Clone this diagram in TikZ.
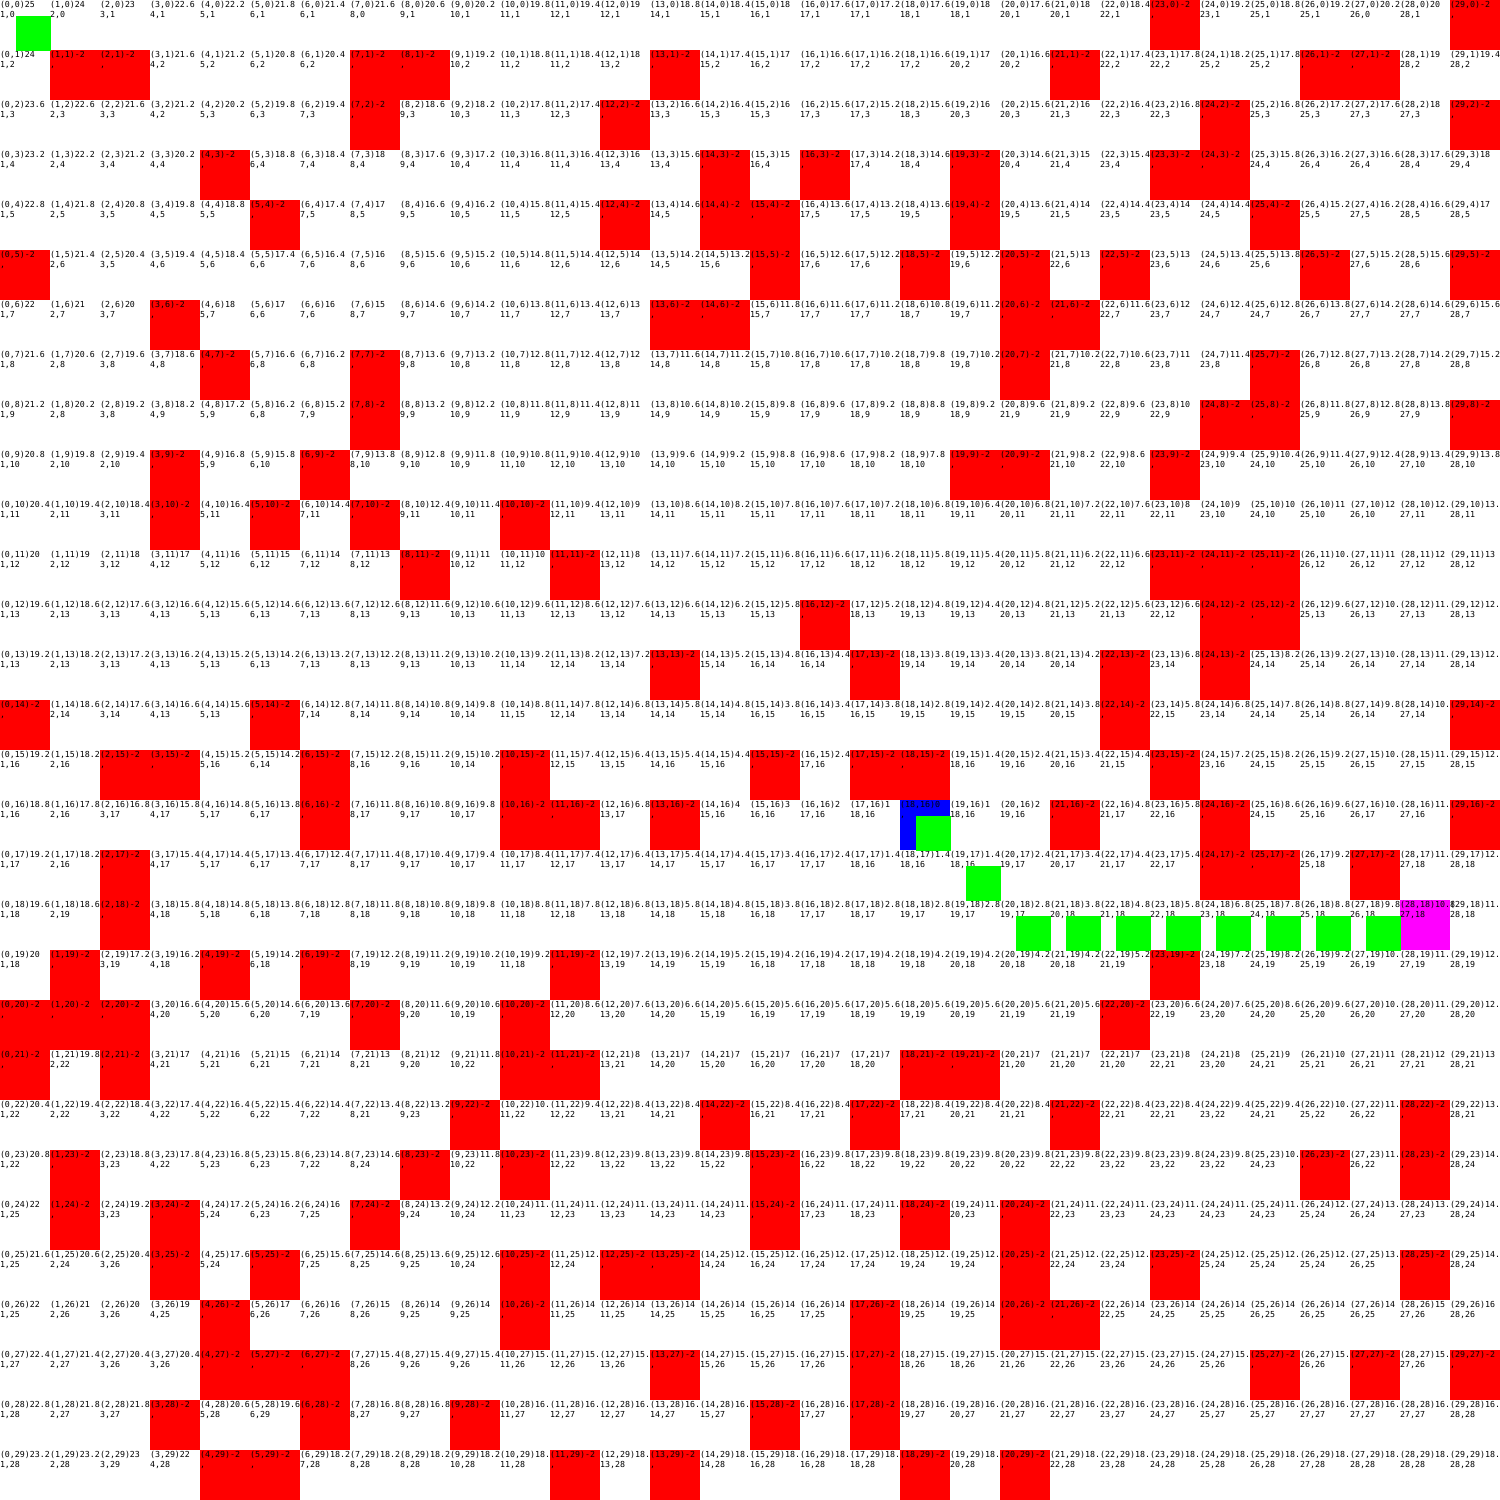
\documentclass[tikz,border=0pt]{standalone}
\usepackage{fontspec}
\newfontfamily\cellfont{DejaVu Sans Mono}
\tikzstyle{free}=[fill=white]
\tikzstyle{wall}=[fill={rgb,255:red,255;green,0;blue,0}]
\tikzstyle{goal}=[fill={rgb,255:red,0;green,0;blue,255}]
\tikzstyle{start}=[fill={rgb,255:red,255;green,0;blue,255}]
\tikzstyle{trail}=[fill={rgb,255:red,0;green,255;blue,0}]
\tikzstyle{lbl}=[inner sep=0pt,outer sep=0pt,anchor=base west,text=black,font=\cellfont\fontsize{4.726pt}{5pt}\selectfont]

% pointer of every cell, numpad style (0 = wall or goal)
\newcount\gxc \newcount\gyc \newcount\gkc \newcount\swc
\def\rowy{}
\def\setrow#1#2{\gxc=0 \def\rowy{#1}\parsedirs#2\relax}
\def\parsedirs#1{\ifx#1\relax\else
  \expandafter\edef\csname pt@\the\gxc @\rowy\endcsname{#1}%
  \advance\gxc by 1 \expandafter\parsedirs\fi}
\setrow{0}{663333263333233332212120121420}
\setrow{1}{300333200332303332132021320021}
\setrow{2}{333633303333023232232221021210}
\setrow{3}{333303333332320302202230012122}
\setrow{4}{333330333333030032301232201221}
\setrow{5}{036333333333263032020302220220}
\setrow{6}{333036633333300232220022212211}
\setrow{7}{333303203333332232220222102111}
\setrow{8}{366336303333332233213221001110}
\setrow{9}{332063033633333233200220111111}
\setrow{10}{333030303303333233222221444411}
\setrow{11}{333333330330333233222220002111}
\setrow{12}{333333333333633203322214001111}
\setrow{13}{666666666633303320322102011111}
\setrow{14}{066990666636666321321101444440}
\setrow{15}{330039033906633030011140144444}
\setrow{16}{663333033300306666044014074140}
\setrow{17}{690666666666666669874444001011}
\setrow{18}{630666666666666699987444444444}
\setrow{19}{906909066690666999998740744444}
\setrow{20}{000666906906669999999807444444}
\setrow{21}{030666669300699999009874744444}
\setrow{22}{666666693066990990799087474407}
\setrow{23}{906966930909989089998998740701}
\setrow{24}{309069306699998099090999874474}
\setrow{25}{693090666909008998980990987407}
\setrow{26}{966906669808799990980089998744}
\setrow{27}{669800099899909890879999908070}
\setrow{28}{699063099099899090999999989874}
\setrow{29}{996900998990908989090999999987}

% distances in tenths, relaxed by sweeps
\def\initrow{\ifnum\gyc<30 \gxc=0 \initcol\advance\gyc 1 \expandafter\initrow\fi}
\def\initcol{\ifnum\gxc<30 \expandafter\def\csname d@\the\gxc @\the\gyc\endcsname{99999}\advance\gxc 1 \expandafter\initcol\fi}
\gyc=0 \initrow
\expandafter\def\csname d@18@16\endcsname{0}
\def\trynb#1#2#3{%
  \edef\nbx{\the\numexpr\gxc+#1\relax}\edef\nby{\the\numexpr\gyc+#2\relax}%
  \ifcsname d@\nbx @\nby\endcsname
    \ifnum\numexpr\csname d@\nbx @\nby\endcsname+#3\relax<\csname d@\the\gxc @\the\gyc\endcsname\relax
      \expandafter\edef\csname d@\the\gxc @\the\gyc\endcsname{\the\numexpr\csname d@\nbx @\nby\endcsname+#3\relax}%
    \fi
  \fi}
\def\relaxcell{%
  \ifnum\csname pt@\the\gxc @\the\gyc\endcsname>0
    \trynb{-1}{-1}{14}\trynb{0}{-1}{14}\trynb{1}{-1}{14}%
    \trynb{-1}{0}{10}\trynb{1}{0}{10}%
    \trynb{-1}{1}{14}\trynb{0}{1}{10}\trynb{1}{1}{14}%
  \fi}
\def\fwdrows{\ifnum\gyc<30 \gxc=0 \fwdcols\advance\gyc 1 \expandafter\fwdrows\fi}
\def\fwdcols{\ifnum\gxc<30 \relaxcell\advance\gxc 1 \expandafter\fwdcols\fi}
\def\bwdrows{\ifnum\gyc>-1 \gxc=29 \bwdcols\advance\gyc -1 \expandafter\bwdrows\fi}
\def\bwdcols{\ifnum\gxc>-1 \relaxcell\advance\gxc -1 \expandafter\bwdcols\fi}
\swc=0
\loop\ifnum\swc<20 \gyc=0 \fwdrows\gyc=29 \bwdrows\advance\swc 1 \repeat

\def\dxof#1{\ifcase#1 0\or-1\or0\or1\or-1\or0\or1\or-1\or0\or1\fi}
\def\dyof#1{\ifcase#1 0\or1\or1\or1\or0\or0\or0\or-1\or-1\or-1\fi}
\def\fmtval#1{\gkc=#1\relax\divide\gkc by 10
  \edef\valfrac{\the\numexpr#1-10*\gkc\relax}%
  \ifnum\valfrac=0 \edef\valtxt{\the\gkc}\else\edef\valtxt{\the\gkc.\valfrac}\fi}
\def\cellsetup#1#2{%
  \edef\cellcode{\csname pt@#1@#2\endcsname}%
  \edef\celldist{\csname d@#1@#2\endcsname}%
  \ifnum\celldist=99999
    \def\cellstyle{wall}\edef\topline{(#1,#2)-2}\def\botline{,}%
  \else\ifnum\celldist=0
    \def\cellstyle{goal}\edef\topline{(#1,#2)0}\def\botline{,}%
  \else
    \def\cellstyle{free}\fmtval{\celldist}\edef\topline{(#1,#2)\valtxt}%
    \edef\botline{\the\numexpr#1+\dxof{\cellcode}\relax,\the\numexpr#2+\dyof{\cellcode}\relax}%
  \fi\fi}

\begin{document}
\begin{tikzpicture}
	\useasboundingbox (0,0) rectangle (30,-30);
	\foreach \y in {0,...,29}{
		\foreach \x in {0,...,29}{
			\cellsetup{\x}{\y}
			\fill[\cellstyle] (\x,-\y) rectangle ++(1,-1);
			\node [lbl] (v-\x-\y) at (\x,-\y-0.15) {\topline};
			\node [lbl] (p-\x-\y) at (\x,-\y-0.35) {\botline};
		}
	}
	\cellsetup{28}{18}
	\fill[start] (28,-18) rectangle ++(1,-1);
	\node [lbl] (v-start) at (28,-18.15) {\topline};
	\node [lbl] (p-start) at (28,-18.35) {\botline};
	\foreach \x/\y in {0/0,18/16,19/17,20/18,21/18,22/18,23/18,24/18,25/18,26/18,27/18}
		\fill[trail] (\x+0.32,-\y-0.32) rectangle (\x+1.02,-\y-1.02);
\end{tikzpicture}
\end{document}
